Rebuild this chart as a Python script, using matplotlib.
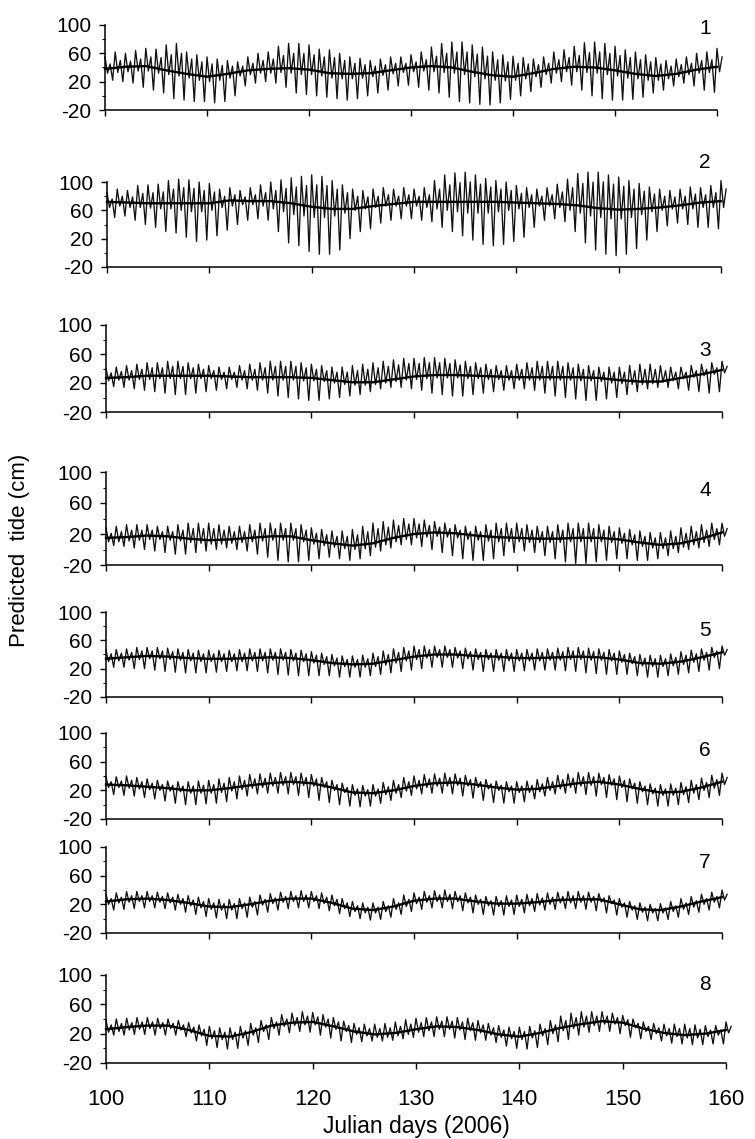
import matplotlib
matplotlib.use("Agg")
import matplotlib.pyplot as plt

plt.rcParams['font.family'] = ['Liberation Sans', 'DejaVu Sans']
plt.rcParams['axes.unicode_minus'] = False

# ---------------- data ----------------
days = list(range(100, 161))              # daily samples, Julian day 100..160
mean_days = list(range(100, 161, 2))      # samples of the smoothed (thick) line
panel_ids = ["1", "2", "3", "4", "5", "6", "7", "8"]
x_ticks = [100, 110, 120, 130, 140, 150, 160]
y_ticks = [-20, 20, 60, 100]
x_label = "Julian days (2006)"
y_label = "Predicted  tide (cm)"

# panel 1 : higher high, higher low, lower high, lower low (per day), smoothed mean
p1_hh = [55,62,60,64,67,66,72,74,62,58, 55,52,50,48,55,60,62,70,74,74, 72,66,65,60,55,53,50,52,55,55,
         58,62,69,74,76,76,72,69,62,58, 56,54,52,55,62,65,70,75,76,74, 70,65,62,58,54,50,52,55,60,62, 67]
p1_hl = [32,33,34,35,35,32,30,28,25,22, 20,22,25,28,30,32,32,33,32,30, 30,28,25,24,24,25,27,29,31,33,
         34,35,34,33,32,30,27,24,22,21, 22,24,27,30,32,34,34,33,32,30, 28,25,24,22,22,24,27,30,32,33, 34]
p1_lh = [45,50,49,52,55,54,58,60,52,48, 45,43,42,42,46,50,52,57,60,60, 58,55,54,50,46,44,42,44,46,46,
         48,51,56,60,62,62,59,56,51,48, 46,45,44,46,51,54,57,61,62,60, 57,54,51,48,45,42,44,46,50,51, 55]
p1_ll = [22,20,18,12,8,4,-4,-6,-8,-8, -10,-8,0,14,18,20,18,12,4,2, 0,-2,-4,-6,-4,0,4,8,14,15,
         12,8,4,-2,-8,-10,-12,-13,-10,-5, 0,6,12,18,20,15,8,0,-4,-6, -6,-5,-2,4,8,14,18,14,8,5, 2]
p1_mean = [38,41,42,36,31,27,31,36,38,39,37,32,31,32,36,40,42,40,34,29,27,32,38,41,40,36,31,28,31,37,41]

# panel 2
p2_hh = [85,90,88,95,96,97,102,104,103,100, 98,90,92,88,92,96,100,103,106,108, 110,108,102,96,90,88,90,92,90,92,
         90,92,102,110,113,114,110,105,102,100, 95,92,90,92,97,104,112,114,114,110, 107,102,98,93,90,88,90,93,92,95, 102]
p2_hl = [64,66,64,64,63,62,62,60,58,58, 60,64,66,68,68,66,62,58,54,52, 50,50,52,56,60,62,64,66,66,66,
         66,64,62,60,58,56,56,56,58,60, 62,64,66,66,64,60,56,52,50,48, 48,50,54,58,60,62,62,62,64,64, 64]
p2_lh = [76,80,79,84,85,86,90,92,91,88, 86,80,82,79,82,85,88,91,93,95, 96,95,90,85,80,79,80,82,80,82,
         80,82,90,96,99,100,97,93,90,88, 84,82,80,82,86,92,98,100,100,97, 94,90,87,83,80,79,80,83,82,85, 90]
p2_ll = [50,52,46,40,36,30,28,22,16,18, 24,32,40,46,48,46,30,14,10,2, -2,-2,4,20,30,34,42,46,48,48,
         46,44,36,30,24,18,12,10,12,16, 22,36,46,48,44,30,14,4,-2,-4, -2,6,18,30,38,42,40,36,36,34, 30]
p2_mean = [72,71,70,70,70,70,74,73,73,70,65,62,62,66,69,72,72,72,72,72,71,70,69,67,63,61,62,64,67,71,73]

# panel 3
p3_hh = [40,42,44,46,48,48,50,50,48,46, 44,42,42,44,46,48,50,50,50,48, 46,44,42,42,44,46,48,50,52,54,
         54,55,55,54,52,50,48,46,44,44, 46,48,50,50,50,48,46,44,42,42, 42,44,46,46,44,42,42,44,46,48, 50]
p3_hl = [23,24,24,25,25,26,26,26,26,26, 26,25,25,24,24,24,24,24,24,23, 23,22,20,18,17,17,18,20,22,24,
         25,26,27,27,27,26,26,25,25,24, 24,24,24,24,24,24,23,23,22,20, 19,18,18,19,21,23,26,28,30,32, 34]
p3_lh = [34,36,37,39,41,41,43,43,41,39, 37,35,35,37,39,41,43,43,43,41, 39,37,35,35,37,39,41,43,45,47,
         47,48,48,47,45,43,41,39,37,37, 39,41,43,43,43,41,39,37,35,35, 35,37,39,39,37,35,35,37,39,41, 43]
p3_ll = [15,14,12,10,8,6,4,4,6,8, 10,12,14,12,10,6,2,0,-2,-4, -4,-2,0,2,4,8,12,14,14,12,
         10,6,4,2,2,4,6,8,10,12, 12,10,6,2,0,-2,-4,-4,-2,0, 4,8,12,14,14,12,10,8,6,8, 10]
p3_mean = [27,28,30,30,30,30,29,28,28,28,27,24,21,21,25,29,31,31,30,29,28,28,28,28,27,24,22,22,27,32,38]

# panel 4
p4_hh = [28,30,32,32,32,30,30,32,34,34, 34,32,30,30,32,34,34,34,34,32, 28,26,24,24,26,30,34,36,38,40,
         40,38,36,34,32,30,30,32,34,34, 34,32,30,30,32,34,34,34,32,30, 28,26,24,22,22,24,28,30,32,34, 34]
p4_hl = [10,10,11,12,13,13,12,11,9,8, 7,7,8,9,10,11,12,12,12,10, 7,5,3,1,0,1,3,6,10,13,
         15,16,17,16,15,13,12,11,10,10, 10,9,9,9,9,10,10,10,10,9, 8,6,4,2,1,1,3,6,9,13, 17]
p4_lh = [21,23,25,25,25,23,23,25,27,27, 27,25,23,23,25,27,27,27,27,25, 21,19,17,17,19,23,27,29,31,33,
         33,31,29,27,25,23,23,25,27,27, 27,25,23,23,25,27,27,27,25,23, 21,19,17,15,15,17,21,23,25,27, 27]
p4_ll = [5,4,2,0,-2,-4,-6,-6,-4,-2, 0,2,0,-2,-6,-10,-14,-16,-16,-14, -12,-10,-12,-14,-12,-8,-2,2,6,6,
         4,0,-4,-8,-12,-14,-14,-12,-8,-4, -2,-4,-8,-12,-16,-18,-18,-16,-14,-12, -12,-14,-14,-12,-8,-4,0,2,4,6, 8]
p4_mean = [15,16,18,17,14,12,13,15,17,17,12,8,5,8,15,20,22,21,18,16,15,14,14,15,15,13,9,6,8,14,22]

# panel 5
p5_hh = [46,47,48,50,50,50,49,48,47,46, 46,46,46,47,48,48,48,48,47,46, 44,42,40,38,38,39,42,45,48,50,
         52,52,52,52,50,49,48,47,47,47, 47,47,48,48,49,50,50,49,48,47, 45,42,40,39,39,41,44,46,48,50, 52]
p5_hl = [30,31,32,33,34,34,33,32,31,30, 30,30,30,30,31,31,32,32,31,30, 28,26,24,23,22,22,23,25,28,31,
         33,35,36,36,35,34,33,33,32,31, 31,31,31,32,32,33,33,32,32,31, 29,27,24,23,23,24,26,29,32,36, 39]
p5_lh = [41,42,43,45,45,45,44,43,42,41, 41,41,41,42,43,43,43,43,42,41, 39,37,35,33,33,34,37,40,43,45,
         47,47,47,47,45,44,43,42,42,42, 42,42,43,43,44,45,45,44,43,42, 40,37,35,34,34,36,39,41,43,45, 47]
p5_ll = [22,22,20,20,18,16,15,14,14,14, 15,16,17,17,16,14,12,11,10,10, 10,10,8,8,8,10,12,14,16,18,
         20,22,22,22,20,18,16,16,16,16, 17,18,18,18,17,16,14,13,12,12, 12,10,8,8,10,12,14,16,18,20, 24]
p5_mean = [34,36,38,37,35,34,34,35,36,35,32,28,26,27,32,37,40,40,38,37,35,35,36,37,36,33,28,27,30,36,43]

# panel 6
p6_hh = [38,39,40,38,36,34,33,32,32,33, 34,36,38,40,42,43,44,45,45,44, 42,38,34,30,28,27,28,31,34,38,
         40,42,43,44,43,41,38,35,33,32, 32,33,35,38,41,43,45,45,44,42, 40,36,32,29,28,29,31,34,37,41, 44]
p6_hl = [24,24,23,22,21,20,19,18,16,16, 16,17,19,21,23,24,26,27,28,27, 26,24,20,17,13,12,12,14,16,19,
         22,24,26,26,27,26,24,22,20,18, 17,17,18,20,22,24,26,27,28,27, 24,22,18,15,13,13,14,16,20,23, 28]
p6_lh = [32,33,34,32,30,28,27,26,26,27, 28,30,32,34,36,37,38,39,39,38, 36,32,28,24,22,21,22,25,28,32,
         34,36,37,38,37,35,32,29,27,26, 26,27,29,32,35,37,39,39,38,36, 34,30,26,23,22,23,25,28,31,35, 38]
p6_ll = [14,13,12,10,8,5,2,0,0,1, 2,4,8,12,15,16,16,15,13,10, 6,3,0,-2,-3,-2,2,6,10,13,
         15,16,16,15,12,9,6,3,2,2, 4,8,12,15,16,16,14,12,10,7, 4,2,0,-2,-2,0,3,7,10,13, 16]
p6_mean = [28,27,25,23,20,20,23,27,30,32,30,24,17,16,20,26,30,31,28,24,21,22,26,30,32,28,22,17,18,24,32]

# panel 7
p7_hh = [34,36,38,38,38,37,36,34,32,30, 28,27,27,28,30,33,35,37,38,39, 38,36,33,28,24,22,22,24,28,33,
         36,38,39,40,38,36,33,31,31,32, 33,34,35,36,37,38,38,37,35,32, 28,24,22,20,21,24,28,31,34,37, 40]
p7_hl = [20,22,23,24,24,23,22,20,18,15, 13,12,12,14,16,19,21,23,24,24, 24,21,18,14,10,8,8,10,13,17,
         21,23,24,24,24,22,20,18,17,17, 17,18,19,20,22,22,23,23,23,21, 16,12,9,8,8,10,13,16,20,23, 26]
p7_lh = [28,30,32,32,32,31,30,28,26,24, 22,21,21,22,24,27,29,31,32,33, 32,30,27,22,18,16,16,18,22,27,
         30,32,33,34,32,30,27,25,25,26, 27,28,29,30,31,32,32,31,29,26, 22,18,16,14,15,18,22,25,28,31, 34]
p7_ll = [12,13,14,15,15,14,12,9,6,3, 1,0,0,2,5,9,12,14,15,15, 14,11,7,3,0,-2,-1,2,6,10,
         13,15,15,14,11,8,6,5,5,6, 8,10,12,13,14,14,13,11,8,5, 2,-1,-3,-3,-1,2,6,9,12,15, 18]
p7_mean = [24,27,28,26,22,17,16,20,25,28,28,22,14,12,17,25,28,28,24,21,21,23,26,27,27,20,13,12,17,24,30]

# panel 8
p8_hh = [38,40,41,42,42,41,40,38,35,32, 30,28,28,30,34,38,42,46,48,50, 49,46,42,37,34,33,33,34,36,39,
         41,42,43,43,42,41,38,34,31,29, 29,30,33,38,44,48,50,50,50,48, 45,40,36,34,33,33,33,32,31,31, 36]
p8_hl = [22,23,25,26,27,27,27,25,21,17, 13,12,12,14,18,23,27,30,31,32, 32,29,26,23,19,17,15,15,17,19,
         22,24,26,26,25,24,21,18,15,13, 12,14,17,20,24,27,29,31,33,33, 31,28,23,20,17,16,14,14,16,18, 21]
p8_lh = [32,34,35,36,36,35,34,32,29,26, 24,22,22,24,28,32,36,40,42,44, 43,40,36,31,28,27,27,28,30,33,
         35,36,37,37,36,35,32,28,25,23, 23,24,27,32,38,42,44,44,44,42, 39,34,30,28,27,27,27,26,25,25, 30]
p8_ll = [18,18,19,19,18,18,18,16,10,4, 1,-1,0,4,8,12,18,21,23,22, 18,14,10,8,9,10,10,11,13,15,
         16,16,16,14,12,11,11,8,3,0, -1,1,5,9,12,18,22,23,23,20, 15,13,12,10,7,6,5,5,6,6, 8]
p8_mean = [26,29,31,31,25,17,16,22,31,35,36,30,23,19,21,26,30,29,25,19,16,21,28,33,37,35,27,21,18,20,25]

panels = [
    (p1_hh, p1_hl, p1_lh, p1_ll, p1_mean),
    (p2_hh, p2_hl, p2_lh, p2_ll, p2_mean),
    (p3_hh, p3_hl, p3_lh, p3_ll, p3_mean),
    (p4_hh, p4_hl, p4_lh, p4_ll, p4_mean),
    (p5_hh, p5_hl, p5_lh, p5_ll, p5_mean),
    (p6_hh, p6_hl, p6_lh, p6_ll, p6_mean),
    (p7_hh, p7_hl, p7_lh, p7_ll, p7_mean),
    (p8_hh, p8_hl, p8_lh, p8_ll, p8_mean),
]

# ---------------- layout (pixels in the 755 x 1139 figure) ----------------
W, H = 755, 1139
# left, top(=100), right(=160), bottom(=-20)
boxes = [(105, 25, 717, 110), (107, 182, 721, 267), (106, 325, 722, 412), (106, 472, 722, 565),
         (106, 612, 722, 697), (106, 733, 722, 819), (106, 847, 722, 933), (106, 975, 726, 1063)]
label_pos = [(705, 29), (705, 162), (705, 350), (705, 490), (705, 630), (705, 750), (705, 862), (705, 985)]

fig = plt.figure(figsize=(W / 100, H / 100), dpi=100)
fig.patch.set_facecolor('white')

for i, ((hh, hl, lh, ll, mean), (l, t, r, b)) in enumerate(zip(panels, boxes)):
    ax = fig.add_axes([l / W, 1 - b / H, (r - l) / W, (b - t) / H])
    # tide trace: per day HH -> HL -> LH -> LL
    tx, ty = [], []
    for d, a, c, e, f in zip(days, hh, hl, lh, ll):
        tx += [d, d + 0.25, d + 0.5, d + 0.75]
        ty += [a, c, e, f]
    # the trace stops at the last high (no final drop)
    ax.plot(tx[:-1], ty[:-1], color='#111111', lw=0.95, clip_on=False, zorder=2)
    ax.plot(mean_days, mean, color='black', lw=1.7, zorder=3, clip_on=False)

    ax.set_xlim(100, 160)
    ax.set_ylim(-20, 100)
    for s in ['top', 'right']:
        ax.spines[s].set_visible(False)
    for s in ['left', 'bottom']:
        ax.spines[s].set_linewidth(1.1)
    ax.set_xticks(x_ticks)
    ax.set_yticks(y_ticks)
    ax.set_yticks([0, 40, 80], minor=True)
    ax.tick_params(axis='y', which='major', direction='out', length=4, width=1.0,
                   labelsize=15, pad=6)
    ax.tick_params(axis='y', which='minor', direction='out', length=2.5, width=0.8)
    ax.tick_params(axis='x', which='major', direction='out', length=4.5, width=1.0,
                   labelsize=16, pad=14)
    if i < 7:
        ax.set_xticklabels([])
    ax.set_facecolor('none')
    fig.text(label_pos[i][0] / W, 1 - label_pos[i][1] / H, panel_ids[i],
             fontsize=15, ha='center', va='center')

fig.text(20 / W, 1 - 550 / H, y_label, rotation=90, fontsize=16, ha='center', va='center')
fig.text(416 / W, 1 - 1127 / H, x_label, fontsize=16.5, ha='center', va='center')

fig.savefig('out.png', dpi=100)
